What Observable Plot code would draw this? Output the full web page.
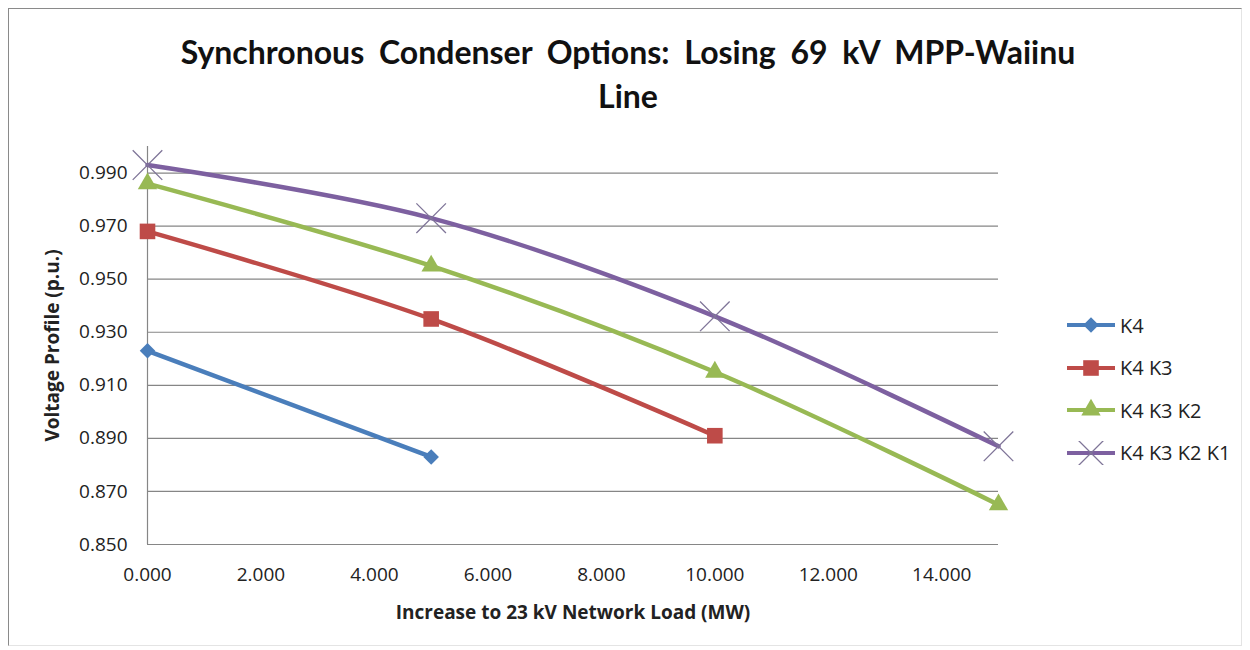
<!DOCTYPE html>
<html>
<head>
<meta charset="utf-8">
<script src="https://cdn.jsdelivr.net/npm/d3@7"></script>
<script src="https://cdn.jsdelivr.net/npm/@observablehq/plot@0.6"></script>
<style>
  html, body { margin: 0; padding: 0; background: #fff; }
  #wrap { position: relative; width: 1250px; height: 650px; overflow: hidden; background: #fff; }
  #frame { position: absolute; left: 8px; top: 8px; width: 1232px; height: 636px; border-left: 1px solid #8a8a8a; border-top: 1px solid #8a8a8a; border-right: 1px solid #e4e4e4; border-bottom: 1px solid #e4e4e4; }
  #title { position: absolute; left: 128px; width: 1000px; top: 30px; text-align: center; font-family: Lato, "Open Sans", sans-serif; font-weight: bold; font-size: 32px; line-height: 44px; color: #111; word-spacing: 7px; }
  #chart { position: absolute; left: 0; top: 0; }
  #legend { position: absolute; left: 1067px; top: 304px; font-family: "Open Sans", sans-serif; font-size: 20px; color: #222; }
  .li { display: flex; align-items: center; height: 42.5px; }
  .li svg { margin-right: 5px; }
  g[aria-label="y-axis label"] text, g[aria-label="x-axis label"] text { font-weight: bold; }
</style>
</head>
<body>
<div id="wrap">
  <div id="frame"></div>
  <div id="chart"></div>
  <div id="title">Synchronous Condenser Options: Losing 69 kV MPP-Waiinu<br>Line</div>
  <div id="legend"></div>
</div>
<script>
// ---- data ----
const seriesNames = ["K4", "K4 K3", "K4 K3 K2", "K4 K3 K2 K1"];
const seriesColors = ["#4a7ebb", "#be4b48", "#98b954", "#7d60a0"];
const seriesSymbols = ["diamond2", "square", "triangle", "times"];
const loadMW = [0, 5, 10, 15];
const k4 = [0.923, 0.883];
const k4k3 = [0.968, 0.935, 0.891];
const k4k3k2 = [0.986, 0.955, 0.915, 0.865];
const k4k3k2k1 = [0.993, 0.973, 0.936, 0.887];
const xTicks = [0, 2, 4, 6, 8, 10, 12, 14];
const yTicks = [0.85, 0.87, 0.89, 0.91, 0.93, 0.95, 0.97, 0.99];
const xLabel = "Increase to 23 kV Network Load (MW)";
const yLabel = "Voltage Profile (p.u.)";

const seriesValues = [k4, k4k3, k4k3k2, k4k3k2k1];
const rows = [];
seriesValues.forEach((vals, i) => vals.forEach((v, j) => rows.push({series: seriesNames[i], x: loadMW[j], y: v})));

const markerR = {"diamond2": 7, "square": 8.8, "triangle": 7.2, "times": 13.5};
const timesStroke = "#7f7598";

const fmt = d3.format(".3f");
const font = "'Open Sans', sans-serif";

const dotMarks = seriesNames.map((name, i) => {
  const s = seriesSymbols[i];
  const data = rows.filter(d => d.series === name);
  return s === "times"
    ? Plot.dot(data, {x: "x", y: "y", symbol: () => s, stroke: timesStroke, strokeWidth: 1.3, r: markerR[s]})
    : Plot.dot(data, {x: "x", y: "y", symbol: () => s, fill: "series", r: markerR[s]});
});

const chart = Plot.plot({
  width: 1250,
  height: 650,
  marginLeft: 147,
  marginRight: 252,
  marginTop: 146,
  marginBottom: 106,
  style: {fontFamily: font, fontSize: "19px", color: "#222", background: "transparent"},
  x: {domain: [0, 15]},
  y: {domain: [0.85, 1.0]},
  color: {domain: seriesNames, range: seriesColors},
  symbol: {domain: seriesSymbols, range: seriesSymbols},
  marks: [
    Plot.ruleY(yTicks.slice(1), {stroke: "#868686", strokeWidth: 1.2}),
    Plot.ruleY([0.85], {stroke: "#868686", strokeWidth: 1.2}),
    Plot.ruleX([0], {y1: 0.85, y2: 1.0, stroke: "#868686", strokeWidth: 1.2}),
    Plot.axisX({ticks: xTicks, tickFormat: fmt, tickSize: 0, tickPadding: 23, label: xLabel, labelAnchor: "center", labelOffset: 74, labelArrow: "none", fontSize: 19}),
    Plot.axisY({ticks: yTicks, tickFormat: fmt, tickSize: 0, tickPadding: 20, label: yLabel, labelAnchor: "center", labelOffset: 102, labelArrow: "none", fontSize: 19}),
    Plot.line(rows, {x: "x", y: "y", z: "series", stroke: "series", strokeWidth: 4.5, curve: "catmull-rom"}),
    ...dotMarks
  ]
});
document.getElementById("chart").appendChild(chart);

// legend
const leg = d3.select("#legend");
const symMap = {diamond2: d3.symbolDiamond2, square: d3.symbolSquare, triangle: d3.symbolTriangle, times: d3.symbolTimes};
seriesNames.forEach((name, i) => {
  const row = leg.append("div").attr("class", "li");
  const svg = row.append("svg").attr("width", 48).attr("height", 24);
  svg.append("line").attr("x1", 0).attr("x2", 48).attr("y1", 12).attr("y2", 12).attr("stroke", seriesColors[i]).attr("stroke-width", 4);
  const s = seriesSymbols[i];
  const p = svg.append("path").attr("transform", "translate(24,12)").attr("d", d3.symbol(symMap[s], Math.PI * markerR[s] * markerR[s])());
  if (s === "times") p.attr("fill", "none").attr("stroke", timesStroke).attr("stroke-width", 1.3);
  else p.attr("fill", seriesColors[i]);
  row.append("span").text(name);
});
</script>
</body>
</html>
